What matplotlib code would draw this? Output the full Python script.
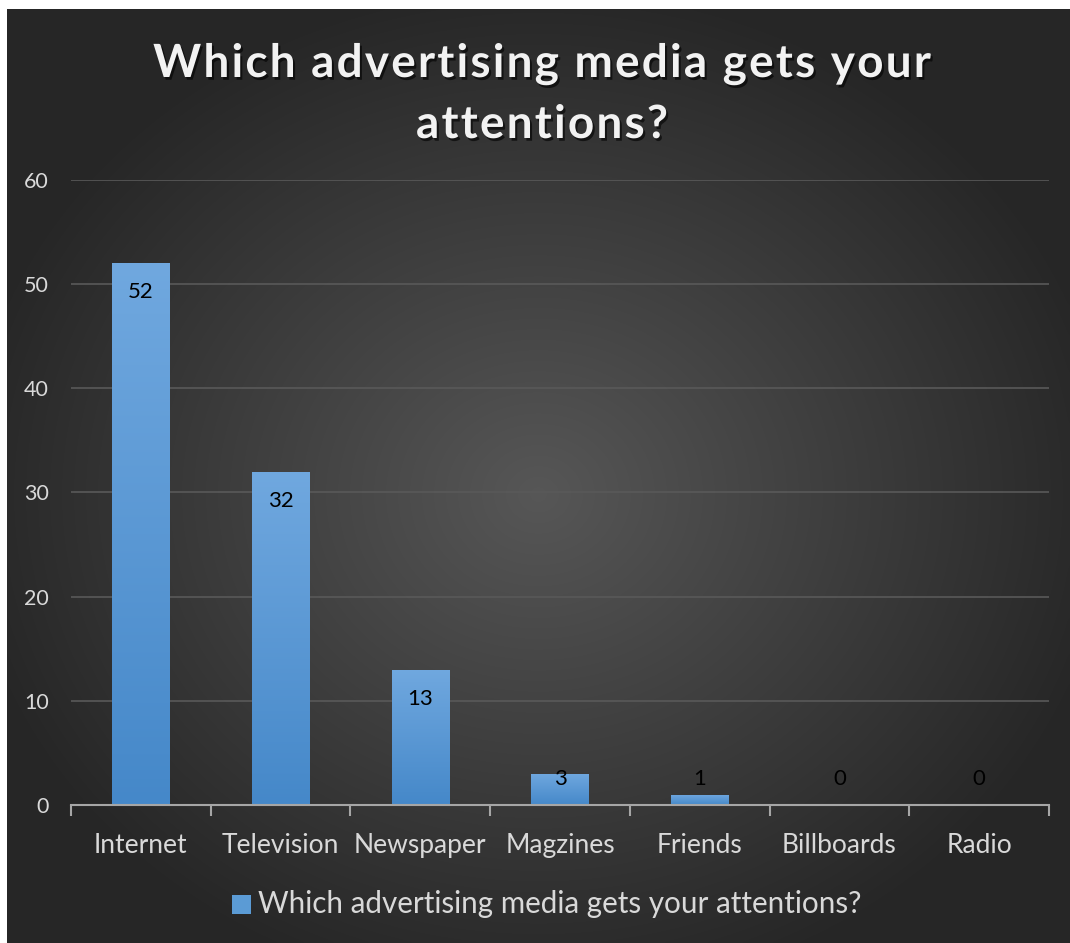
import matplotlib.pyplot as plt
import matplotlib.patheffects as pe
from matplotlib import font_manager
from matplotlib.font_manager import FontProperties
import numpy as np

categories = ['Internet', 'Television', 'Newspaper', 'Magzines', 'Friends', 'Billboards', 'Radio']
counts = [52, 32, 13, 3, 1, 0, 0]
title_lines = ['Which advertising media gets your', 'attentions?']
series_name = 'Which advertising media gets your attentions?'

plt.rcParams['font.family'] = ['Lato', 'DejaVu Sans']

W, H = 1070, 943
fig = plt.figure(figsize=(W / 100, H / 100), dpi=100)
fig.patch.set_facecolor('white')

# dark radial background, leaving a thin white strip at top and left
bg = fig.add_axes([7 / W, 0, 1 - 7 / W, 1 - 9 / H])
yy, xx = np.mgrid[0:1:400j, 0:1:450j]
r = np.sqrt(((xx - 0.5) / 0.75) ** 2 + ((yy - 0.52) / 0.75) ** 2)
shade = np.clip(0.34 - 0.26 * r, 0.15, 0.34)
bg.imshow(np.dstack([shade, shade, shade]), aspect='auto', extent=[0, 1, 0, 1],
          interpolation='bicubic')
bg.set_axis_off()

# plot area
x0, x1 = 71 / W, 1049 / W
y0, y1 = 1 - 805 / H, 1 - 180 / H
ax = fig.add_axes([x0, y0, x1 - x0, y1 - y0])
ax.set_facecolor('none')

x = np.arange(len(categories))
bars = ax.bar(x, counts, width=0.41, color='#5b9bd5', zorder=3)

# vertical gradient on each bar
grad = np.linspace(0, 1, 256).reshape(-1, 1)
top_c = np.array([0x70, 0xa8, 0xdf]) / 255
bot_c = np.array([0x45, 0x88, 0xc9]) / 255
grad_img = bot_c + (top_c - bot_c) * grad[..., None]
grad_img = grad_img.reshape(256, 1, 3)
for b in bars:
    if b.get_height() <= 0:
        continue
    bx, by = b.get_x(), b.get_y()
    im = ax.imshow(grad_img, aspect='auto', origin='lower',
                   extent=[bx, bx + b.get_width(), by, by + b.get_height()], zorder=3)
    im.set_clip_path(b)
    b.set_facecolor('none')

for xi, v in zip(x, counts):
    ax.text(xi, max(v - 2.8, 2.5), str(v), ha='center', va='center',
            fontsize=16, color='black', zorder=5)

ax.set_xlim(-0.5, len(categories) - 0.5)
ax.set_ylim(0, 60)
ax.set_yticks(range(0, 61, 10))
ax.yaxis.grid(True, color='#595959', linewidth=1.2, zorder=0)
ax.set_axisbelow(True)
for s in ['top', 'right', 'left']:
    ax.spines[s].set_visible(False)
ax.spines['bottom'].set_color('#a6a6a6')
ax.spines['bottom'].set_linewidth(1.5)
ax.spines['bottom'].set_zorder(4)

ax.tick_params(axis='y', length=0, pad=16, labelsize=15.5, labelcolor='#d9d9d9')
ax.set_xticks(x)
ax.set_xticklabels(categories)
ax.tick_params(axis='x', length=0, pad=20, labelsize=19, labelcolor='#d9d9d9')
ax.set_xticks(np.arange(-0.5, len(categories), 1.0), minor=True)
ax.tick_params(axis='x', which='minor', length=8, width=1.5, color='#a6a6a6', direction='out')

# title, drawn letter by letter for the wide tracking
title_size = 33
tracking = 2.2  # extra px between letters
tprop = FontProperties(family='Lato', weight='bold', size=title_size)
tfont = font_manager.get_font(font_manager.findfont(tprop))
tfont.set_size(title_size, 100)
shadow = [pe.withSimplePatchShadow(offset=(1.5, -2), shadow_rgbFace='black', alpha=0.6)]
for line, base in zip(title_lines, [77, 138]):
    adv = [tfont.load_char(ord(c)).linearHoriAdvance / 65536 for c in line]
    total = sum(adv) + tracking * (len(line) - 1)
    cx = 542 - total / 2
    for c, a in zip(line, adv):
        if c != ' ':
            fig.text(cx / W, 1 - base / H, c, ha='left', va='baseline',
                     fontproperties=tprop, color='#f2f2f2', path_effects=shadow)
        cx += a + tracking

# legend
fig.patches.append(plt.Rectangle((232 / W, 1 - 914 / H), 19 / W, 19 / H,
                                 transform=fig.transFigure, facecolor='#5b9bd5',
                                 edgecolor='none'))
fig.text(258 / W, 1 - 904 / H, series_name, ha='left', va='center',
         fontsize=21.3, color='#d9d9d9')

fig.savefig('out.png', dpi=100)
